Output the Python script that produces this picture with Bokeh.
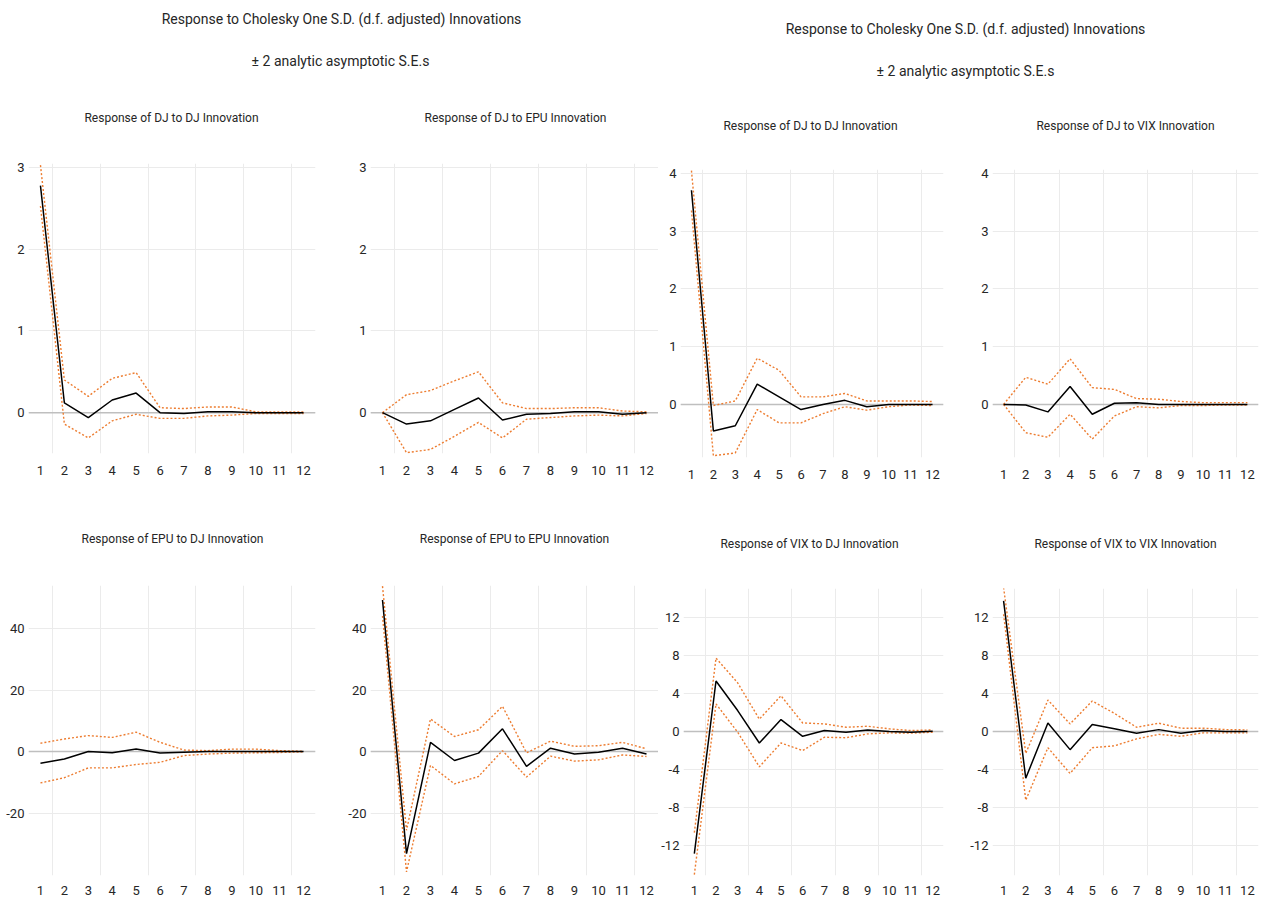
from bokeh.plotting import figure
from bokeh.layouts import row, column
from bokeh.models import Range1d, FixedTicker, Span
from bokeh.core.properties import value
from bokeh.embed import file_html
from bokeh.resources import INLINE

FONT = "Roboto"
TXT = "#262626"
ORANGE = "#ED7D31"

periods = [1, 2, 3, 4, 5, 6, 7, 8, 9, 10, 11, 12]
grid_x = [1.5, 3.5, 5.5, 7.5, 9.5, 11.5]

group_title = "Response to Cholesky One S.D. (d.f. adjusted) Innovations"
group_subtitle = "± 2 analytic asymptotic S.E.s"

# ---- left block (DJ / EPU system) ----
dj_dj_a = [2.78, 0.12, -0.06, 0.155, 0.24, 0.0, -0.01, 0.01, 0.01, 0.0, 0.0, 0.0]
dj_dj_a_up = [3.03, 0.40, 0.20, 0.42, 0.49, 0.06, 0.05, 0.07, 0.07, 0.01, 0.01, 0.01]
dj_dj_a_lo = [2.53, -0.14, -0.31, -0.10, -0.02, -0.07, -0.07, -0.04, -0.03, -0.01, -0.01, -0.01]

dj_epu = [0.0, -0.14, -0.10, 0.04, 0.18, -0.09, -0.02, -0.01, 0.01, 0.01, -0.02, 0.0]
dj_epu_up = [0.0, 0.22, 0.27, 0.39, 0.50, 0.12, 0.05, 0.05, 0.06, 0.06, 0.02, 0.01]
dj_epu_lo = [0.0, -0.49, -0.45, -0.29, -0.12, -0.31, -0.08, -0.06, -0.04, -0.03, -0.04, -0.01]

epu_dj = [-3.8, -2.4, 0.0, -0.4, 0.8, -0.5, -0.2, 0.0, 0.0, 0.0, 0.0, 0.0]
epu_dj_up = [2.7, 4.1, 5.2, 4.6, 6.3, 3.0, 0.5, 0.3, 0.8, 0.8, 0.3, 0.1]
epu_dj_lo = [-10.2, -8.5, -5.3, -5.3, -4.2, -3.5, -1.3, -0.8, -0.5, -0.4, -0.3, -0.1]

epu_epu = [49.3, -33.2, 3.0, -2.9, -0.5, 7.4, -4.8, 1.1, -0.8, -0.2, 1.1, -0.8]
epu_epu_up = [53.8, -25.6, 10.6, 4.9, 7.1, 14.7, -0.4, 3.4, 1.7, 1.9, 3.0, 0.9]
epu_epu_lo = [44.1, -39.1, -4.5, -10.5, -8.1, 0.3, -8.3, -1.5, -3.1, -2.7, -1.1, -1.6]

# ---- right block (DJ / VIX system) ----
dj_dj_b = [3.71, -0.46, -0.37, 0.35, 0.13, -0.09, 0.0, 0.07, -0.04, 0.0, 0.0, 0.0]
dj_dj_b_up = [4.05, -0.02, 0.06, 0.80, 0.59, 0.13, 0.13, 0.19, 0.06, 0.06, 0.06, 0.05]
dj_dj_b_lo = [3.36, -0.89, -0.84, -0.09, -0.32, -0.32, -0.16, -0.04, -0.10, -0.04, -0.01, -0.02]

dj_vix = [0.0, -0.01, -0.13, 0.31, -0.17, 0.02, 0.03, 0.0, 0.0, 0.0, 0.0, 0.0]
dj_vix_up = [0.0, 0.47, 0.35, 0.79, 0.29, 0.26, 0.10, 0.09, 0.05, 0.03, 0.03, 0.03]
dj_vix_lo = [0.0, -0.49, -0.57, -0.17, -0.60, -0.20, -0.04, -0.06, -0.02, -0.02, -0.01, -0.01]

vix_dj = [-12.8, 5.3, 2.2, -1.2, 1.25, -0.5, 0.1, -0.07, 0.17, 0.0, -0.07, 0.03]
vix_dj_up = [-10.6, 7.7, 5.1, 1.3, 3.75, 0.9, 0.8, 0.45, 0.55, 0.28, 0.1, 0.17]
vix_dj_lo = [-15.0, 2.9, -0.07, -3.7, -1.2, -2.0, -0.6, -0.65, -0.25, -0.14, -0.17, -0.07]

vix_vix = [13.7, -4.9, 0.9, -1.9, 0.73, 0.28, -0.17, 0.2, -0.17, 0.1, 0.0, 0.0]
vix_vix_up = [15.1, -2.3, 3.3, 0.8, 3.2, 1.9, 0.45, 0.87, 0.35, 0.35, 0.2, 0.17]
vix_vix_lo = [12.3, -7.2, -1.7, -4.4, -1.7, -1.5, -0.77, -0.3, -0.5, -0.14, -0.14, -0.14]

ticks_dj_a = [0, 1, 2, 3]
ticks_dj_b = [0, 1, 2, 3, 4]
ticks_epu = [-20, 0, 20, 40]
ticks_vix = [-12, -8, -4, 0, 4, 8, 12]


def panel(resp, up, lo, yr, yticks, fw, fh, bl, br, bt, bb, xstand):
    p = figure(width=bl + fw + br, height=bt + fh + bb,
               min_border_left=bl, min_border_right=br,
               min_border_top=bt, min_border_bottom=bb,
               x_range=Range1d(0.5, 12.5), y_range=Range1d(*yr),
               output_backend="svg", toolbar_location=None)
    p.outline_line_color = None
    p.xaxis.ticker = FixedTicker(ticks=periods)
    p.yaxis.ticker = FixedTicker(ticks=yticks)
    p.yaxis.major_label_overrides = {t: str(t) for t in yticks}
    p.xgrid.ticker = FixedTicker(ticks=grid_x)
    p.grid.grid_line_color = "#EBEBEB"
    p.grid.grid_line_width = 1
    for ax in p.axis:
        ax.axis_line_color = None
        ax.major_tick_line_color = None
        ax.minor_tick_line_color = None
        ax.major_tick_out = 0
        ax.major_tick_in = 0
        ax.minor_tick_out = 0
        ax.minor_tick_in = 0
        ax.major_label_text_font = FONT
        ax.major_label_text_font_size = "13px"
        ax.major_label_text_color = TXT
    p.yaxis.major_label_standoff = 4
    p.xaxis.major_label_standoff = xstand
    p.add_layout(Span(location=0, dimension="width", line_color="#BFBFBF",
                      line_width=1.5, level="underlay"))
    p.line(periods, up, line_color=ORANGE, line_width=1.4, line_dash="2 2")
    p.line(periods, lo, line_color=ORANGE, line_width=1.4, line_dash="2 2")
    p.line(periods, resp, line_color="black", line_width=1.5)
    return p


def text_fig(w, h, items):
    p = figure(frame_width=w, frame_height=h, x_range=Range1d(0, w),
               y_range=Range1d(h, 0), min_border=0,
               x_axis_type=None, y_axis_type=None,
               output_backend="svg", toolbar_location=None)
    p.grid.visible = False
    p.outline_line_color = None
    for x, y, t, size in items:
        p.text(x=[x], y=[y], text=[t], text_align="center",
               text_baseline="middle", text_font=value(FONT),
               text_font_size=size, text_color=TXT)
    return p


GT = "14px"
PT = "12px"

# left block
L_W = 658
hdrL1 = text_fig(L_W, 157, [
    (341, 18, group_title, GT),
    (340, 60, group_subtitle, GT),
    (171, 117, "Response of DJ to DJ Innovation", PT),
    (515, 117, "Response of DJ to EPU Innovation", PT),
])
p1 = panel(dj_dj_a, dj_dj_a_up, dj_dj_a_lo, (-0.5, 3.05), ticks_dj_a, 287, 290, 28, 25, 6, 40, 12)
p2 = panel(dj_epu, dj_epu_up, dj_epu_lo, (-0.5, 3.05), ticks_dj_a, 288, 290, 30, 0, 6, 40, 12)
hdrL2 = text_fig(L_W, 86, [
    (172, 45, "Response of EPU to DJ Innovation", PT),
    (514, 45, "Response of EPU to EPU Innovation", PT),
])
p5 = panel(epu_dj, epu_dj_up, epu_dj_lo, (-40.3, 54), ticks_epu, 287, 290, 28, 25, 6, 28, 10)
p6 = panel(epu_epu, epu_epu_up, epu_epu_lo, (-40.3, 54), ticks_epu, 288, 290, 30, 0, 6, 28, 10)

# right block
R_W = 601
hdrR1 = text_fig(R_W, 163, [
    (307, 28, group_title, GT),
    (307, 70, group_subtitle, GT),
    (152, 125, "Response of DJ to DJ Innovation", PT),
    (467, 125, "Response of DJ to VIX Innovation", PT),
])
p3 = panel(dj_dj_b, dj_dj_b_up, dj_dj_b_lo, (-0.92, 4.07), ticks_dj_b, 263, 288, 22, 19, 6, 40, 12)
p4 = panel(dj_vix, dj_vix_up, dj_vix_lo, (-0.92, 4.07), ticks_dj_b, 266, 288, 30, 1, 6, 40, 12)
hdrR2 = text_fig(R_W, 85, [
    (151, 46, "Response of VIX to DJ Innovation", PT),
    (467, 46, "Response of VIX to VIX Innovation", PT),
])
p7 = panel(vix_dj, vix_dj_up, vix_dj_lo, (-15.1, 15.0), ticks_vix, 261, 287, 24, 19, 6, 28, 10)
p8 = panel(vix_vix, vix_vix_up, vix_vix_lo, (-15.1, 15.0), ticks_vix, 266, 287, 30, 1, 6, 28, 10)

left = column(hdrL1, row(p1, p2), hdrL2, row(p5, p6))
right = column(hdrR1, row(p3, p4), hdrR2, row(p7, p8))
layout = row(left, right)

open("out.html", "w").write(file_html(layout, INLINE))
